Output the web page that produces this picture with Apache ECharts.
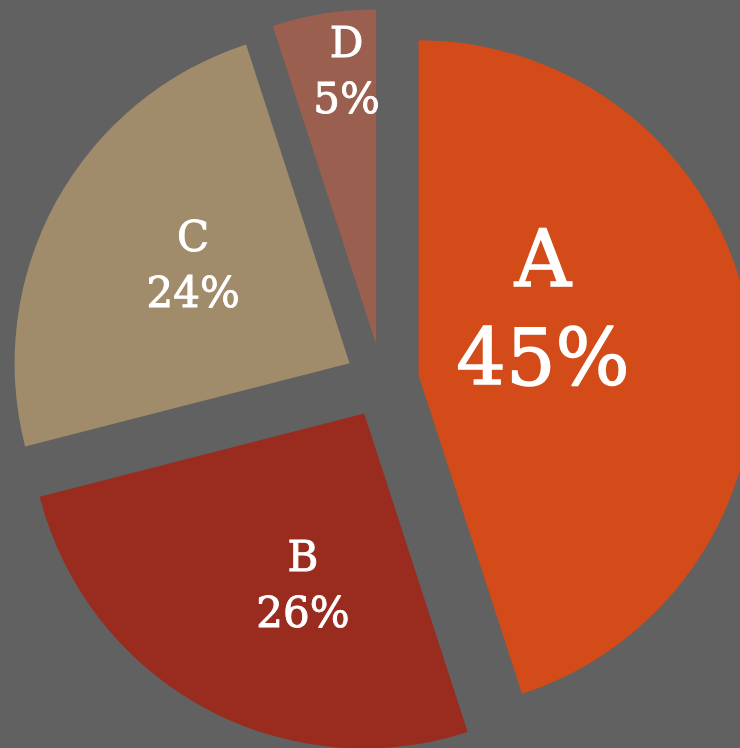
<!DOCTYPE html>
<html>
<head>
<meta charset="utf-8">
<script src="https://cdn.jsdelivr.net/npm/echarts@6/dist/echarts.min.js"></script>
<style>
html,body{margin:0;padding:0;background:#616161;}
#chart{width:740px;height:748px;}
</style>
</head>
<body>
<div id="chart"></div>
<script>
const categories = ['A', 'B', 'C', 'D'];
const values = [45, 26, 24, 5];
const colors = ['#D24B18', '#9A2C1F', '#A08C6A', '#9A5F4F'];
const fontSizes = [78, 42, 42, 42];
const lineHeights = [99, 56, 56, 56];
const strokeWidths = [1.4, 0.9, 0.9, 0.9];
const labelShifts = [[-44, -33], [21, 25], [-7, -13], [-3, -102]];

const chart = echarts.init(document.getElementById('chart'), null, {renderer: 'canvas'});
const data = categories.map((c, i) => ({
  name: c,
  value: values[i],
  selected: true,
  itemStyle: {color: colors[i]},
  label: {
    fontSize: fontSizes[i],
    lineHeight: lineHeights[i],
    textBorderColor: '#ffffff',
    textBorderWidth: strokeWidths[i]
  }
}));
chart.setOption({
  backgroundColor: '#616161',
  animation: false,
  series: [{
    type: 'pie',
    center: [382, 381],
    radius: [0, 335],
    startAngle: 90,
    clockwise: true,
    selectedMode: 'multiple',
    selectedOffset: 37,
    avoidLabelOverlap: false,
    itemStyle: {borderWidth: 0},
    label: {
      show: true,
      position: 'inside',
      color: '#ffffff',
      fontFamily: 'DejaVu Serif',
      align: 'center',
      formatter: p => p.name + '\n' + Math.round(p.percent) + '%'
    },
    labelLayout: p => ({dx: labelShifts[p.dataIndex][0], dy: labelShifts[p.dataIndex][1]}),
    labelLine: {show: false},
    emphasis: {disabled: true},
    data: data
  }]
});
</script>
</body>
</html>
